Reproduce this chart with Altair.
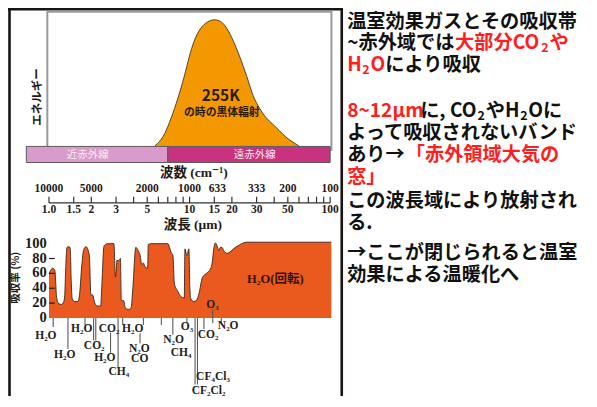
import altair as alt
import pandas as pd

# ---------------- data ----------------
energy_wavelength = [5.65, 6.64, 7.40, 8.24, 9.17, 9.93, 10.77, 12.0, 13.4, 15.0, 16.6,
                     18.4, 20.5, 22.8, 25.5, 28.3, 31.5, 35.1, 39.1, 43.5, 48.4, 53.9, 60.0]
energy_level = [0, 9.6, 22.3, 37.5, 55.2, 70.4, 83, 93.2, 98.2, 100, 98.7,
                93.2, 83, 70.4, 55.2, 40, 29.8, 22.3, 17.2, 12.2, 7.1, 3.3, 0]

absorption_wavelength = [
    1.00, 1.021, 1.060, 1.101, 1.130, 1.162, 1.225, 1.273, 1.294, 1.311,
    1.343, 1.387, 1.416, 1.439, 1.462, 1.527, 1.603, 1.647, 1.710, 1.766,
    1.832, 1.935, 1.986, 2.041, 2.118, 2.212, 2.333, 2.371, 2.464, 2.598,
    2.894, 2.970, 3.052, 3.137, 3.219, 3.271, 3.401, 3.489, 3.685, 3.842,
    3.949, 4.145, 4.329, 4.442, 4.565, 4.692, 4.816, 5.030, 5.087, 5.303,
    7.018, 7.200, 7.401, 7.604, 7.803, 8.243, 8.694, 9.167, 9.271, 9.575,
    9.888, 10.05, 10.21, 10.67, 11.25, 11.67, 12.33, 13.36, 14.09, 14.48,
    14.86, 15.28, 15.70, 16.11, 16.56, 17.02, 17.46, 18.44, 19.45, 20.51,
    22.23, 24.09, 25.44, 102]
absorption_percent = [
    60, 63, 67, 64, 30, 20, 18, 22, 30, 60,
    95, 96, 94, 50, 26, 22, 22, 30, 70, 92,
    96, 85, 31, 31, 20, 16, 16, 40, 97, 100,
    100, 55, 78, 77, 80, 24, 23, 13.5, 11.4, 14,
    40, 95, 90, 85, 72, 74, 69, 67, 99, 100,
    100, 95, 88, 84.5, 46, 36, 28.6, 27, 93, 84,
    93, 40, 26, 22, 24, 33, 54, 61, 66, 74,
    93, 101, 97, 91, 95, 95, 91, 87, 89, 93,
    97.4, 101, 102, 102]

band_names = ["近赤外線", "遠赤外線"]
band_start = [0.69, 7.0]
band_end = [7.0, 100]

wavenumber_ticks = [10000, 5000, 2000, 1000, 633, 333, 200, 100]
wavenumber_labels = ["10000", "5000", "2000", "1000", "633", "333", "200", "100"]
wavelength_label_values = [1.0, 1.5, 2, 3, 5, 10, 15, 20, 30, 50, 100]
wavelength_labels = ["1.0", "1.5", "2", "3", "5", "10", "15", "20", "30", "50", "100"]
wavelength_ticks = [1, 1.5, 2, 3, 4, 5, 6, 7, 8, 9, 10, 15, 20, 30, 40, 50, 60, 70, 80, 90, 100]
absorption_ticks = [0, 20, 40, 60, 80, 100]
absorption_tick_labels = ["0", "20", "40", "60", "80", "100"]

gas_names = ["H₂O", "H₂O", "H₂O", "CO₂", "CO₂", "H₂O", "CH₄", "H₂O", "N₂O", "CO",
             "N₂O", "O₃", "CH₄", "CF₄Cl₃", "CF₂Cl₂", "CO₂", "N₂O", "O₃"]
gas_wavelength = [0.950, 1.294, 1.710, 2.097, 2.671, 2.496, 3.137, 3.937, 4.385, 4.421,
                  7.702, 9.575, 8.694, 14.67, 13.65, 13.54, 18.83, 14.55]
line_wavelength = [1.072, 1.364, 1.803, 2.077, 2.152, 2.740, 3.101, 3.345, 4.442, 4.692,
                   6.300, 7.604, 9.575, 10.94, 11.38, 12.65, 14.62, 16.83]

# ---------------- layout (not data) ----------------
gas_row = [-23.9, -49.7, -14.8, -38.1, -14.5, -53.5, -73.5, -14.8, -41.3, -54.8,
           -30.3, -12.3, -47.7, -79, -98.3, -22.6, -11, 17.8]
line_top = [0, 0, 0, 0, 0, -20, 0, 0, -20.6, 0, 0, 0, 0, 0, 0, 0, 12.3, 0]
line_bottom = [-12.3, -41.9, -9.7, -30.3, -30.3, -47.1, -67.7, -9.7, -34.2, -9.7,
               -9.7, -22.6, -5.8, -89.7, -89.7, -14.8, -7.1, -7.1]

W, H = 580, 388


def cx(x):
    return (x - 4.0) * W / 590.0


def cy(y):
    return (y - 2.0) * H / 405.0


SERIF = "Liberation Serif, DejaVu Serif, Noto Sans CJK JP, serif"
SANS = "Noto Sans CJK JP, sans-serif"
INK = "#1e1a18"

XS = alt.Scale(type="log", domain=[1, 100], range=[cx(45.7), cx(331.7)], nice=False)
EY = alt.Scale(domain=[0, 100], range=[cy(146), cy(14.3)], nice=False, zero=False)
AY = alt.Scale(domain=[0, 100], range=[cy(325.5), cy(248)], nice=False, zero=False)

one = pd.DataFrame({"k": [0]})
layers = []


def text_at(txt, x, y, size, font=SANS, color=INK, weight="bold", angle=0, align="center"):
    return alt.Chart(pd.DataFrame({"t": [txt]})).mark_text(
        font=font, fontSize=size, fontWeight=weight, color=color, align=align,
        baseline="middle", angle=angle
    ).encode(x=alt.value(x), y=alt.value(y), text="t:N")


# outer frame lines
layers.append(alt.Chart(one).mark_rule(color="#1b1212", strokeWidth=2.6).encode(
    x=alt.value(0), x2=alt.value(cx(344.5)), y=alt.value(1.3)))
layers.append(alt.Chart(one).mark_rule(color="#1b1212", strokeWidth=2.6).encode(
    x=alt.value(1.5), y=alt.value(0), y2=alt.value(H)))
layers.append(alt.Chart(one).mark_rule(color="#1b1212", strokeWidth=2.6).encode(
    x=alt.value(cx(343.5)), y=alt.value(0), y2=alt.value(H)))

# energy panel frame
layers.append(alt.Chart(one).mark_rect(fill="white", stroke="#9a9a9a", strokeWidth=2).encode(
    x=alt.value(cx(44)), x2=alt.value(cx(333)), y=alt.value(cy(6)), y2=alt.value(cy(150))))

# black body curve
energy_df = pd.DataFrame({"wl": energy_wavelength, "e": energy_level})
layers.append(alt.Chart(energy_df).mark_area(
    color="#F39800", opacity=1, interpolate="monotone",
    line={"color": "#4a3320", "strokeWidth": 0.9}
).encode(x=alt.X("wl:Q", scale=XS, axis=None), y=alt.Y("e:Q", scale=EY, axis=None)))
layers.append(text_at("255K", cx(220.5), cy(94), 15.5, color="#2b1a08"))
layers.append(text_at("の時の黒体輻射", cx(221.5), cy(111.7), 10.8, color="#2b1a08"))
layers.append(text_at("エネルギー", cx(35), cy(95), 11.5, angle=270))

# near / far infrared bands
band_fill = ["#D99BCB", "#C8327F"]
band_text_x = [85, 255]
for nm, s, e, col, tx in zip(band_names, band_start, band_end, band_fill, band_text_x):
    bdf = pd.DataFrame({"s": [s], "e": [e]})
    layers.append(alt.Chart(bdf).mark_rect(color=col, opacity=1, stroke="#5a5a5a", strokeWidth=1).encode(
        x=alt.X("s:Q", scale=XS, axis=None), x2="e:Q",
        y=alt.value(cy(146.5)), y2=alt.value(cy(163.3))))
    layers.append(text_at(nm, cx(tx), cy(155), 10.5, color="#f7eaf3", weight="normal"))

# double axis: wavenumber / wavelength
layers.append(text_at("波数 (cm⁻¹)", cx(193), cy(174), 13.5, font=SERIF))
wn_df = pd.DataFrame({"wl": [10000.0 / w for w in wavenumber_ticks], "lab": wavenumber_labels})
layers.append(alt.Chart(wn_df).mark_text(font=SERIF, fontSize=11.5, fontWeight="bold",
                                         color=INK, baseline="middle").encode(
    x=alt.X("wl:Q", scale=XS, axis=None), y=alt.value(cy(190.5)), text="lab:N"))
layers.append(alt.Chart(pd.DataFrame({"a": [1], "b": [100]})).mark_rule(
    color="#333", strokeWidth=1.3).encode(
    x=alt.X("a:Q", scale=XS, axis=None), x2="b:Q", y=alt.value(cy(205.5))))
layers.append(alt.Chart(pd.DataFrame({"t": wavelength_ticks})).mark_rule(
    color="#333", strokeWidth=1.2).encode(
    x=alt.X("t:Q", scale=XS, axis=None), y=alt.value(cy(199)), y2=alt.value(cy(205.5))))
wl_df = pd.DataFrame({"wl": wavelength_label_values, "lab": wavelength_labels})
layers.append(alt.Chart(wl_df).mark_text(font=SERIF, fontSize=11.5, fontWeight="bold",
                                         color=INK, baseline="middle").encode(
    x=alt.X("wl:Q", scale=XS, axis=None), y=alt.value(cy(213)), text="lab:N"))
layers.append(text_at("波長 (μm)", cx(192), cy(228), 13.5, font=SERIF))

# absorption spectrum
abs_df = pd.DataFrame({"wl": absorption_wavelength, "p": absorption_percent})
layers.append(alt.Chart(abs_df).mark_area(
    color="#EA5A1E", opacity=1, interpolate="monotone",
    line={"color": "#3b2418", "strokeWidth": 0.9}
).encode(x=alt.X("wl:Q", scale=XS, axis=None), y=alt.Y("p:Q", scale=AY, axis=None)))

tick_df = pd.DataFrame({"v": absorption_ticks, "lab": absorption_tick_labels})
layers.append(alt.Chart(tick_df).mark_text(font=SERIF, fontSize=14.5, fontWeight="bold",
                                           color=INK, align="right", baseline="middle").encode(
    y=alt.Y("v:Q", scale=AY, axis=None), x=alt.value(cx(43.5)), text="lab:N"))
layers.append(alt.Chart(pd.DataFrame({"v": absorption_ticks[1:-1]})).mark_rule(
    color="#2a1a12", strokeWidth=1.2).encode(
    y=alt.Y("v:Q", scale=AY, axis=None), x=alt.value(cx(45.7)), x2=alt.value(cx(51.5))))
layers.append(text_at("吸収率 (%)", cx(12.5), cy(283.5), 10.5, angle=270))

lines_df = pd.DataFrame({"wl": line_wavelength, "top": line_top, "bot": line_bottom})
layers.append(alt.Chart(lines_df).mark_rule(color="#5a5a5a", strokeWidth=1.1).encode(
    x=alt.X("wl:Q", scale=XS, axis=None),
    y=alt.Y("top:Q", scale=AY, axis=None), y2="bot:Q"))
gas_df = pd.DataFrame({"wl": gas_wavelength, "row": gas_row, "name": gas_names})
layers.append(alt.Chart(gas_df).mark_text(font=SERIF, fontSize=11.5, fontWeight="bold",
                                          color="#222", baseline="middle").encode(
    x=alt.X("wl:Q", scale=XS, axis=None),
    y=alt.Y("row:Q", scale=AY, axis=None), text="name:N"))
layers.append(text_at("H₂O(回転)", cx(276), cy(285), 12.5, font=SERIF, color="#3a1208"))

# right-hand explanatory text
RED, BLK = "#FF1E1E", "#111111"
right_lines = [
    (16.5, [("温室効果ガスとその吸収帯", BLK, 0)]),
    (39.0, [("~赤外域では", BLK, 0), ("大部分CO", RED, 0), ("2", RED, 1), ("や", RED, 0)]),
    (62.0, [("H", RED, 0), ("2", RED, 1), ("O", RED, 0), ("により吸収", BLK, 0)]),
    (109.0, [("8~12μm", RED, 0), ("に, CO", BLK, 0), ("2", BLK, 1), ("やH", BLK, 0),
             ("2", BLK, 1), ("Oに", BLK, 0)]),
    (132.0, [("よって吸収されないバンド", BLK, 0)]),
    (155.5, [("あり→", BLK, 0), ("「赤外領域大気の", RED, 0)]),
    (178.5, [("窓」", RED, 0)]),
    (203.5, [("この波長域により放射され", BLK, 0)]),
    (226.5, [("る.", BLK, 0)]),
    (258.0, [("→ここが閉じられると温室", BLK, 0)]),
    (281.0, [("効果による温暖化へ", BLK, 0)]),
]
FS, SUB = 19.2, 12.5


def em(s):
    w = 0.0
    for ch in s:
        if ord(ch) >= 0x2E80 or ch in "「」→":
            w += 1.0
        elif ch in "CO":
            w += 0.72
        elif ch == "H":
            w += 0.74
        elif ch.isdigit() or ch == "~":
            w += 0.57
        elif ch == "μ":
            w += 0.6
        elif ch == "m":
            w += 0.87
        elif ch in ",.":
            w += 0.28
        elif ch == " ":
            w += 0.22
        else:
            w += 0.6
    return w


rows = []
for yref, segs in right_lines:
    x = cx(349)
    for txt, col, sub in segs:
        size = SUB if sub else FS
        rows.append({"t": txt, "px": x, "py": cy(yref) + (5 if sub else 0), "c": col, "s": size})
        x += em(txt) * size + 1.0
rt = pd.DataFrame(rows)
layers.append(alt.Chart(rt).mark_text(font=SANS, fontWeight="bold", align="left",
                                      baseline="middle").encode(
    x=alt.X("px:Q", scale=None), y=alt.Y("py:Q", scale=None),
    color=alt.Color("c:N", scale=None), size=alt.Size("s:Q", scale=None), text="t:N"))

chart = alt.layer(*layers).resolve_scale(
    y="independent", color="independent", size="independent"
).properties(
    width=W, height=H, padding=0, background="white",
    autosize=alt.AutoSizeParams(type="none")
).configure_view(stroke=None)

chart.save("out.html", embed_options={"renderer": "svg", "actions": False})
